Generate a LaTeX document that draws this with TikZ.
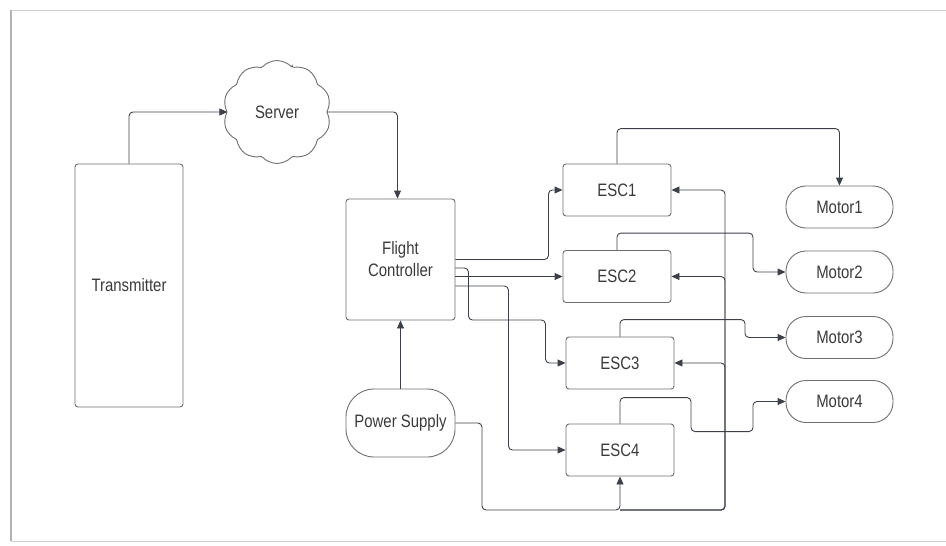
\documentclass[tikz,border=0pt]{standalone}
\usepackage{fontspec}
\setmainfont{Liberation Sans}[FakeStretch=0.83]
\usetikzlibrary{shapes.symbols,arrows.meta}
\definecolor{wirecol}{HTML}{3C4048}
\definecolor{edgecol}{HTML}{6E6E6E}
\definecolor{ink}{HTML}{3A3A3A}

\begin{document}
\begin{tikzpicture}[x=1pt,y=-1pt,
  block/.style={draw=edgecol,line width=0.9pt,rounded corners=3pt,text=ink,
    font=\fontsize{18}{22}\selectfont,align=center,inner sep=0pt},
  esc/.style={block,minimum width=108pt,minimum height=52pt},
  motor/.style={block,rounded corners=20pt,minimum width=107pt,minimum height=42pt},
  wire/.style={draw=wirecol,line width=0.9pt,rounded corners=4pt},
  arr/.style={wire,-{Triangle[length=8pt,width=7pt]}}]
  \useasboundingbox (0,0) rectangle (946,546);

  % page frame
  \draw[black!18,line width=1pt] (946,10) -- (11,10) -- (11,541) -- (946,541);
  \draw[black!30,line width=2pt] (11,10) -- (11,541);

  % left side
  \node[block,minimum width=108pt,minimum height=243pt] (tx) at (129,285.5) {Transmitter};
  \node[block,cloud,cloud puffs=10,cloud puff arc=110,cloud ignores aspect,
    minimum width=108pt,minimum height=103pt] (server) at (277,112) {Server};
  \node[block,minimum width=109pt,minimum height=121pt] (fc) at (400.5,259.5) {Flight\\Controller};
  \node[block,rounded corners=28pt,minimum width=109pt,minimum height=68pt] (ps) at (400.5,423) {Power Supply};

  % ESCs and motors
  \node[esc] (esc1) at (617,190) {ESC1};
  \node[esc] (esc2) at (617,276.5) {ESC2};
  \node[esc] (esc3) at (620,363) {ESC3};
  \node[esc] (esc4) at (620,450) {ESC4};

  \node[motor] (m1) at (839.5,207) {Motor1};
  \node[motor] (m2) at (839.5,272) {Motor2};
  \node[motor] (m3) at (839.5,337.5) {Motor3};
  \node[motor] (m4) at (839.5,401.5) {Motor4};

  % signal path
  \draw[arr] (tx.north) |- (server.west);
  \draw[arr] (server.east) -| ([xshift=-3pt]fc.north);
  \draw[arr] (ps.north) -- (fc.south);

  % flight controller to the ESCs
  \draw[arr] (fc.east) -- ++(93,0) |- (esc1.west);
  \draw[arr] (fc.east |- esc2.west) -- (esc2.west);
  \draw[arr] ([yshift=-8.5pt]fc.east) -- ++(13,0) -- ++(0,52) -- ++(77,0) |- (esc3.west);
  \draw[arr] ([yshift=-26.5pt]fc.east) -- ++(53,0) |- (esc4.west);

  % ESCs to the motors
  \draw[arr] (esc1.north) -- ++(0,-35) -| (m1.north);
  \draw[arr] (esc2.north) -- ++(0,-17) -- ++(136,0) |- (m2.west);
  \draw[arr] (esc3.north) -- ++(0,-17) -- ++(125,0) |- (m3.west);
  \draw[arr] (esc4.north) -- ++(0,-26) -- ++(71,0) -- ++(0,34) -- ++(62,0) |- (m4.west);

  % power lines
  \coordinate (psbend) at (482,510);
  \coordinate (bus) at (725,510);
  \draw[arr] (ps.east) -| (psbend) -| (esc4.south);
  \foreach \e in {esc1,esc2,esc3}
    \draw[arr] (esc4.south |- bus) -- (bus) |- (\e.east);
\end{tikzpicture}
\end{document}
